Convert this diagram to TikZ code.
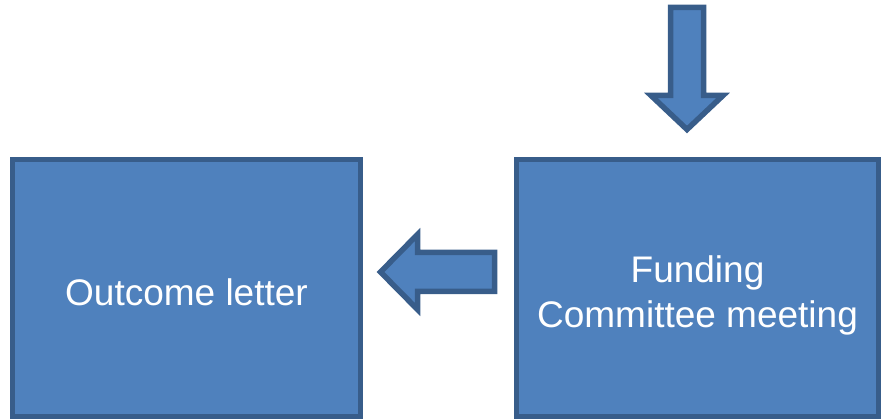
\documentclass[tikz,border=0pt]{standalone}
\usepackage{fontspec}
\setmainfont{Liberation Sans}
\usepackage{xcolor}
\usetikzlibrary{positioning}
\definecolor{boxblue}{HTML}{4F81BD}
\definecolor{boxedge}{HTML}{385D8A}
\tikzstyle{block} = [rectangle, draw=boxedge, fill=boxblue, line width=5.5pt, text=white, font=\fontsize{37}{45}\selectfont]
\tikzstyle{blockarrow} = [draw=boxedge, fill=boxblue, line width=5.5pt, line join=miter]
\tikzset{every node/.style={align=center}}

\begin{document}
\begin{tikzpicture}[x=1pt, y=-1pt]
    \useasboundingbox (0,0) rectangle (884,419);
    \node (outcome) [block, minimum width=348pt, minimum height=257pt, text height=35pt] at (186.5,288) {Outcome letter};
    \node (funding) [block, minimum width=362pt, minimum height=257pt] at (697.5,288) {\raisebox{-14.5pt}[0pt][0pt]{\begin{tabular}{@{}c@{}}Funding\\Committee meeting\end{tabular}}};

    % incoming arrow from above
    \coordinate (intip) at (687,129.5);
    \draw [blockarrow] (intip) -- (651,95.5) -- (670.5,95.5) -- (670.5,7.5) -- (703.5,7.5) -- (703.5,95.5) -- (723,95.5) -- cycle;

    % funding -> outcome
    \coordinate (outtip) at (380.5,272);
    \draw [blockarrow] (outtip) -- (417.5,234.5) -- (417.5,252.5) -- (494.5,252.5) -- (494.5,291.5) -- (417.5,291.5) -- (417.5,309.5) -- cycle;
\end{tikzpicture}
\end{document}
